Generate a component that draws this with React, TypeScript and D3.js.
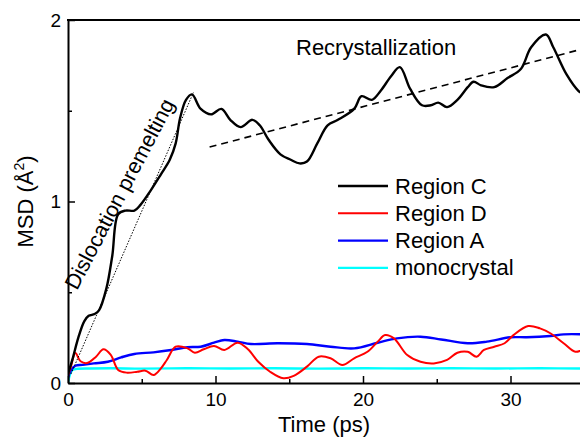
import React, { useEffect, useRef } from 'react';
import * as d3 from 'd3';

// Region C (black)
const regionCTime = [0, 0.3, 0.7, 1.1, 1.4, 1.8, 2.1, 2.6, 3.0, 3.4, 3.9, 4.5, 4.9, 5.6, 6.3, 6.9, 7.3, 7.6, 8.0, 8.4, 9.0, 9.7, 10.4, 11.0, 11.7, 12.5, 13.0, 13.6, 14.4, 15.1, 15.7, 16.2, 16.9, 17.6, 18.3, 19.4, 19.9, 20.6, 21.2, 21.9, 22.5, 23.2, 24.0, 24.6, 25.1, 25.7, 26.4, 27.1, 27.5, 28.0, 28.9, 29.8, 30.7, 31.4, 32.4, 32.9, 33.8, 34.6, 35.2];
const regionCValues = [0.05, 0.13, 0.25, 0.34, 0.37, 0.38, 0.40, 0.52, 0.70, 0.93, 0.95, 0.95, 0.98, 1.06, 1.15, 1.23, 1.32, 1.46, 1.56, 1.59, 1.51, 1.48, 1.51, 1.45, 1.41, 1.45, 1.42, 1.34, 1.26, 1.23, 1.21, 1.22, 1.32, 1.42, 1.45, 1.51, 1.58, 1.56, 1.61, 1.69, 1.74, 1.62, 1.53, 1.53, 1.545, 1.52, 1.56, 1.63, 1.66, 1.64, 1.63, 1.68, 1.73, 1.85, 1.92, 1.85, 1.70, 1.61, 1.58];

// Region D (red)
const regionDTime = [0, 0.2, 0.5, 0.85, 1.3, 1.9, 2.4, 2.9, 3.4, 4.0, 4.7, 5.25, 5.8, 6.3, 6.7, 7.3, 8.1, 8.6, 9.2, 9.9, 10.6, 11.5, 12.2, 12.9, 13.7, 14.6, 15.3, 16.2, 17.0, 17.8, 18.6, 19.4, 20.3, 21.0, 21.5, 22.1, 23.0, 23.9, 24.8, 25.7, 26.4, 27.1, 27.7, 28.2, 28.9, 29.6, 30.2, 31.2, 32.0, 32.7, 33.6, 34.4, 35.0];
const regionDValues = [0.04, 0.09, 0.165, 0.12, 0.11, 0.145, 0.186, 0.155, 0.072, 0.057, 0.062, 0.068, 0.044, 0.081, 0.127, 0.20, 0.191, 0.167, 0.186, 0.204, 0.182, 0.222, 0.186, 0.117, 0.062, 0.026, 0.039, 0.09, 0.145, 0.136, 0.099, 0.136, 0.172, 0.228, 0.264, 0.246, 0.154, 0.117, 0.108, 0.127, 0.167, 0.172, 0.145, 0.182, 0.20, 0.219, 0.264, 0.314, 0.301, 0.274, 0.219, 0.172, 0.19];

// Region A (blue)
const regionATime = [0, 0.2, 0.5, 1.0, 1.75, 2.7, 3.6, 4.5, 5.8, 7.0, 8.1, 9.0, 9.9, 10.6, 11.5, 12.4, 14.2, 16.2, 17.8, 19.4, 21.0, 22.3, 23.9, 25.3, 27.1, 28.4, 30.0, 31.1, 32.7, 33.6, 35.0];
const regionAValues = [0.03, 0.07, 0.095, 0.10, 0.108, 0.117, 0.141, 0.16, 0.169, 0.182, 0.197, 0.20, 0.222, 0.237, 0.228, 0.215, 0.219, 0.215, 0.20, 0.191, 0.222, 0.246, 0.255, 0.24, 0.219, 0.228, 0.252, 0.252, 0.259, 0.268, 0.268];

// monocrystal (cyan)
const monoTime = [0, 0.15, 0.3, 0.6, 1.5, 3, 5, 8, 11, 14, 17, 20, 23, 26, 29, 32, 35];
const monoValues = [0.0, 0.05, 0.072, 0.078, 0.08, 0.081, 0.079, 0.081, 0.08, 0.081, 0.079, 0.081, 0.08, 0.081, 0.08, 0.081, 0.08];

// guide lines
const premeltTime = [0.2, 8.5];
const premeltValues = [0.05, 1.6];
const recrystTime = [9.6, 40];
const recrystValues = [1.3, 1.95];

const xMajorTicks = [0, 10, 20, 30];
const xMinorTicks = [5, 15, 25, 35];
const yMajorTicks = [0, 1, 2];
const yMinorTicks = [0.5, 1.5];

const legendLabels = ['Region C', 'Region D', 'Region A', 'monocrystal'];

const App = () => {
    const svgRef = useRef<SVGSVGElement>(null);

    useEffect(() => {
        const svg = d3.select(svgRef.current);
        const width = 580;
        const height = 440;
        const margin = { top: 20, right: -78, bottom: 57, left: 68 };
        const font = 'Arial, "Liberation Sans", sans-serif';
        const labelSize = 22;

        svg.selectAll('*').remove();

        const x = d3.scaleLinear().domain([0, 40]).range([margin.left, width - margin.right]);
        const y = d3.scaleLinear().domain([0, 2]).range([height - margin.bottom, margin.top]);

        const series = [
            { t: regionCTime, v: regionCValues, color: '#000000', w: 2.4 },
            { t: regionDTime, v: regionDValues, color: '#ff0000', w: 2 },
            { t: regionATime, v: regionAValues, color: '#0000ff', w: 2.4 },
            { t: monoTime, v: monoValues, color: '#00ffff', w: 2.4 },
        ];

        svg.append('defs').append('clipPath').attr('id', 'plot-clip')
            .append('rect')
            .attr('x', margin.left)
            .attr('y', margin.top - 2)
            .attr('width', width - margin.left)
            .attr('height', height - margin.bottom - margin.top + 4);

        const plot = svg.append('g').attr('clip-path', 'url(#plot-clip)');

        const line = d3.line<[number, number]>()
            .x(d => x(d[0]))
            .y(d => y(d[1]))
            .curve(d3.curveCatmullRom.alpha(0.5));

        // draw back to front: cyan, blue, red, black
        [...series].reverse().forEach(s => {
            const pts = s.t.map((t, i) => [t, s.v[i]] as [number, number]);
            plot.append('path')
                .datum(pts)
                .attr('fill', 'none')
                .attr('stroke', s.color)
                .attr('stroke-width', s.w)
                .attr('stroke-linejoin', 'round')
                .attr('d', line);
        });

        const straight = d3.line<[number, number]>().x(d => x(d[0])).y(d => y(d[1]));

        plot.append('path')
            .datum(premeltTime.map((t, i) => [t, premeltValues[i]] as [number, number]))
            .attr('fill', 'none')
            .attr('stroke', '#000')
            .attr('stroke-width', 1)
            .attr('stroke-dasharray', '1.5,1.5')
            .attr('d', straight);

        plot.append('path')
            .datum(recrystTime.map((t, i) => [t, recrystValues[i]] as [number, number]))
            .attr('fill', 'none')
            .attr('stroke', '#000')
            .attr('stroke-width', 1.6)
            .attr('stroke-dasharray', '7,5')
            .attr('d', straight);

        // axes, ticks pointing inward
        const fmt = d3.format('d');
        const xAxis = svg.append('g')
            .attr('transform', `translate(0, ${height - margin.bottom})`)
            .call(d3.axisBottom(x).tickValues(xMajorTicks).tickFormat(d => fmt(d as number))
                .tickSize(-7).tickSizeOuter(0).tickPadding(10));
        svg.append('g')
            .attr('transform', `translate(0, ${height - margin.bottom})`)
            .call(d3.axisBottom(x).tickValues(xMinorTicks).tickSize(-4).tickSizeOuter(0).tickFormat(() => ''))
            .select('.domain').remove();

        const yAxis = svg.append('g')
            .attr('transform', `translate(${margin.left}, 0)`)
            .call(d3.axisLeft(y).tickValues(yMajorTicks).tickFormat(d => fmt(d as number))
                .tickSize(-7).tickSizeOuter(0).tickPadding(7));
        svg.append('g')
            .attr('transform', `translate(${margin.left}, 0)`)
            .call(d3.axisLeft(y).tickValues(yMinorTicks).tickSize(-4).tickSizeOuter(0).tickFormat(() => ''))
            .select('.domain').remove();

        [xAxis, yAxis].forEach(a => {
            a.selectAll('text').attr('font-size', 19).attr('font-family', font).attr('fill', '#000');
        });
        svg.selectAll('.domain').attr('stroke-width', 2);
        svg.selectAll('.tick line').attr('stroke-width', 1.5);

        // top border
        svg.append('line')
            .attr('x1', margin.left - 1).attr('x2', width)
            .attr('y1', margin.top).attr('y2', margin.top)
            .attr('stroke', '#000').attr('stroke-width', 2);

        // axis labels
        svg.append('text')
            .attr('x', (margin.left + width) / 2)
            .attr('y', 432)
            .attr('text-anchor', 'middle')
            .attr('font-size', labelSize)
            .attr('font-family', font)
            .text('Time (ps)');

        const yLabel = svg.append('text')
            .attr('transform', `translate(33, ${(margin.top + height - margin.bottom) / 2}) rotate(-90)`)
            .attr('text-anchor', 'middle')
            .attr('font-size', labelSize)
            .attr('font-family', font);
        yLabel.append('tspan').text('MSD (Å');
        yLabel.append('tspan').attr('font-size', 14).attr('dy', -9).text('2');
        yLabel.append('tspan').attr('dy', 9).text(')');

        // annotations
        svg.append('text')
            .attr('x', 296)
            .attr('y', 55)
            .attr('font-size', labelSize)
            .attr('font-family', font)
            .text('Recrystallization');

        svg.append('text')
            .attr('transform', 'translate(77, 291) rotate(-62.4)')
            .attr('font-size', 21.5)
            .attr('font-family', font)
            .text('Dislocation premelting');

        // legend
        const legend = svg.append('g').attr('transform', 'translate(338, 186)');
        series.forEach((s, i) => {
            const row = legend.append('g').attr('transform', `translate(0, ${i * 27.3})`);
            row.append('line')
                .attr('x1', 0).attr('x2', 50)
                .attr('y1', 0).attr('y2', 0)
                .attr('stroke', s.color)
                .attr('stroke-width', s.w);
            row.append('text')
                .attr('x', 57)
                .attr('y', 7.5)
                .attr('font-size', labelSize)
                .attr('font-family', font)
                .text(legendLabels[i]);
        });
    }, []);

    return (
        <svg ref={svgRef} width={580} height={440}
            style={{ position: 'absolute', left: 0, top: 0, background: '#fff' }} />
    );
};

export default App;
